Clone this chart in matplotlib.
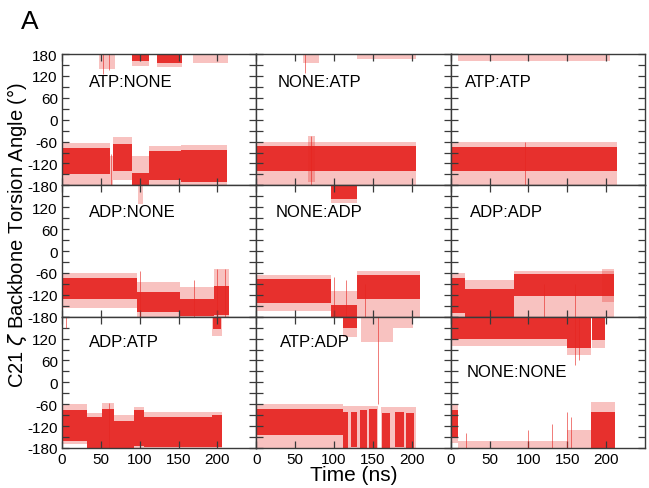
import matplotlib
matplotlib.use("Agg")
import matplotlib.pyplot as plt

plt.rcParams["font.family"] = ["Liberation Sans", "DejaVu Sans"]

# panel names, row by row
panel_names = ["ATP:NONE", "NONE:ATP", "ATP:ATP",
               "ADP:NONE", "NONE:ADP", "ADP:ADP",
               "ADP:ATP", "ATP:ADP", "NONE:NONE"]

y_ticks = [-180, -120, -60, 0, 60, 120, 180]
x_ticks = [0, 50, 100, 150, 200]

# each segment: (t_start ns, t_end ns, low deg, high deg)
atp_none_dense = [(0, 62, -150, -78), (66, 90, -140, -68), (90, 112, -178, -145),
                  (112, 153, -165, -85), (153, 212, -170, -82),
                  (90, 112, 160, 180), (122, 154, 155, 180)]
atp_none_sparse = [(0, 62, -180, -65), (62, 66, -180, -100), (66, 90, -165, -48),
                   (90, 112, -180, -100), (112, 153, -180, -72), (153, 212, -180, -70),
                   (47, 68, 140, 180), (90, 112, 148, 180), (122, 154, 145, 180),
                   (168, 213, 155, 180)]
atp_none_spikes = [(53, 125, 180), (60, 135, 180), (63, -180, -95)]

none_atp_dense = [(0, 205, -140, -72)]
none_atp_sparse = [(0, 205, -180, -62), (66, 76, -170, -45),
                   (60, 80, 155, 180), (130, 205, 165, 180)]
none_atp_spikes = [(63, 128, 180), (70, -180, -45)]

atp_atp_dense = [(0, 214, -142, -75)]
atp_atp_sparse = [(0, 214, -180, -62), (10, 205, 160, 180)]
atp_atp_spikes = [(95, -180, -62)]

adp_none_dense = [(0, 96, -132, -75), (96, 152, -168, -112),
                  (152, 195, -178, -132), (195, 215, -175, -95)]
adp_none_sparse = [(0, 96, -155, -60), (96, 152, -180, -85), (152, 195, -180, -100),
                   (195, 215, -180, -50), (98, 104, 130, 180)]
adp_none_spikes = [(100, -180, -55), (170, -180, -80), (200, -180, -50), (210, -180, -50)]

none_adp_dense = [(0, 96, -142, -77), (96, 130, -180, -147), (130, 211, -132, -66),
                  (96, 130, 142, 180)]
none_adp_sparse = [(0, 96, -165, -65), (96, 130, -180, -110), (130, 211, -180, -56),
                   (96, 130, 132, 180)]
none_adp_spikes = [(100, -180, -70), (115, -180, -80), (140, -180, -90)]

adp_adp_dense = [(0, 19, -170, -75), (19, 81, -180, -105), (81, 210, -122, -62)]
adp_adp_sparse = [(0, 19, -180, -60), (19, 81, -180, -80), (81, 210, -180, -55),
                  (195, 210, -140, -48)]
adp_adp_spikes = [(120, -180, -90), (160, -180, -90)]

adp_atp_dense = [(0, 32, -160, -75), (32, 52, -180, -95), (52, 67, -180, -72),
                 (67, 92, -180, -105), (92, 106, -175, -75), (106, 193, -178, -95),
                 (193, 206, -178, -90), (194, 205, 145, 180)]
adp_atp_sparse = [(0, 32, -170, -60), (32, 52, -180, -85), (52, 67, -180, -56),
                  (67, 92, -180, -90), (92, 106, -180, -68), (106, 193, -180, -82),
                  (193, 206, -180, -82), (193, 206, 128, 180)]
adp_atp_spikes = [(5, 150, 180), (60, -180, -56)]

atp_adp_dense = [(0, 111, -145, -72), (111, 118, -180, -80), (122, 130, -178, -80),
                 (134, 142, -180, -75), (145, 155, -180, -72), (162, 172, -180, -85),
                 (178, 190, -178, -80), (193, 203, -180, -85), (111, 130, 150, 180)]
atp_adp_sparse = [(0, 111, -180, -60), (111, 156, -180, -65), (160, 205, -180, -68),
                  (111, 130, 125, 180), (135, 176, 110, 180), (176, 202, 148, 180)]
atp_adp_spikes = [(156, -60, 180)]

none_none_dense = [(2, 150, 118, 180), (150, 180, 95, 180), (182, 199, 115, 180),
                   (0, 9, -150, -75), (180, 211, -180, -80)]
none_none_sparse = [(2, 150, 100, 180), (150, 180, 75, 180), (182, 199, 95, 180),
                    (0, 9, -165, -60), (180, 211, -180, -55), (9, 150, -180, -160),
                    (150, 180, -180, -130)]
none_none_spikes = [(160, 48, 180), (165, 60, 180), (130, -180, -115),
                    (150, -180, -80), (155, -180, -95), (20, -180, -140),
                    (100, -180, -130)]

dense_all = [atp_none_dense, none_atp_dense, atp_atp_dense,
             adp_none_dense, none_adp_dense, adp_adp_dense,
             adp_atp_dense, atp_adp_dense, none_none_dense]
sparse_all = [atp_none_sparse, none_atp_sparse, atp_atp_sparse,
              adp_none_sparse, none_adp_sparse, adp_adp_sparse,
              adp_atp_sparse, atp_adp_sparse, none_none_sparse]
spikes_all = [atp_none_spikes, none_atp_spikes, atp_atp_spikes,
              adp_none_spikes, none_adp_spikes, adp_adp_spikes,
              adp_atp_spikes, atp_adp_spikes, none_none_spikes]

# label position (axes fraction) per panel
label_x = [0.14, 0.11, 0.075, 0.14, 0.10, 0.10, 0.14, 0.12, 0.08]
label_y = [0.79, 0.79, 0.79, 0.80, 0.80, 0.80, 0.81, 0.81, 0.58]

RED = "#e62420"
EDGE = "#3a3a3a"

fig = plt.figure(figsize=(6.49, 4.89), dpi=100)

left, right = 62 / 649, 645 / 649
top, bottom = 1 - 55 / 489, 1 - 449 / 489
w = (right - left) / 3
h = (top - bottom) / 3

for i, name in enumerate(panel_names):
    r, c = divmod(i, 3)
    ax = fig.add_axes([left + c * w, top - (r + 1) * h, w, h])
    for (t0, t1, lo, hi) in sparse_all[i]:
        ax.fill_between([t0, t1], [lo, lo], [hi, hi], color=RED, alpha=0.28, lw=0)
    for (t0, t1, lo, hi) in dense_all[i]:
        ax.fill_between([t0, t1], [lo, lo], [hi, hi], color=RED, alpha=0.92, lw=0)
    for (t, lo, hi) in spikes_all[i]:
        ax.vlines(t, lo, hi, color=RED, lw=0.7, alpha=0.6)

    ax.set_xlim(0, 250)
    ax.set_ylim(-180, 180)
    ax.set_xticks(x_ticks)
    ax.set_yticks(y_ticks)
    ax.set_yticks(range(-150, 180, 60), minor=True)
    ax.tick_params(which="both", direction="in", top=True, right=True,
                   length=5, width=0.9, color=EDGE, labelsize=11, pad=3)
    if c == 0:
        labels = [str(v) for v in y_ticks]
        if r > 0:
            labels[-1] = ""
        ax.set_yticklabels(labels)
    else:
        ax.set_yticklabels([])
    if r != 2:
        ax.set_xticklabels([])
    for s in ax.spines.values():
        s.set_color(EDGE)
        s.set_linewidth(1.0)
    ax.text(label_x[i], label_y[i], name, transform=ax.transAxes,
            fontsize=12, va="center", ha="left")

fig.text(0.026, 0.52, r"C21 $\zeta$ Backbone Torsion Angle (°)", rotation=90,
         fontsize=14.5, va="center", ha="center")
fig.text(left + 1.5 * w, 0.028, "Time (ns)", fontsize=15, ha="center", va="center")
fig.text(0.033, 0.955, "A", fontsize=19, ha="left", va="center")

fig.savefig("out.png", dpi=100)
